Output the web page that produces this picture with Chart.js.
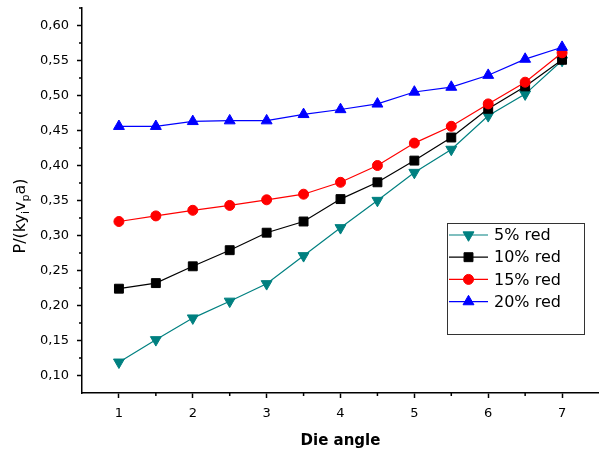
<!DOCTYPE html>
<html>
<head>
<meta charset="utf-8">
<script src="https://cdn.jsdelivr.net/npm/chart.js@4.4.0/dist/chart.umd.min.js"></script>
<style>
  body { margin: 0; background: #fff; }
  #wrap { width: 599px; height: 454px; }
</style>
</head>
<body>
<div id="wrap"><canvas id="dieChart" width="599" height="454"></canvas></div>
<script>
// die angle values on the x axis
const angles = [1, 1.5, 2, 2.5, 3, 3.5, 4, 4.5, 5, 5.5, 6, 6.5, 7];

// P/(ky_i v_p a) for each reduction
const red5 = [0.119, 0.151, 0.182, 0.206, 0.231, 0.271, 0.311, 0.350, 0.390, 0.423, 0.471, 0.502, 0.550];
const red10 = [0.224, 0.232, 0.256, 0.279, 0.304, 0.320, 0.352, 0.376, 0.407, 0.440, 0.481, 0.513, 0.551];
const red15 = [0.320, 0.328, 0.336, 0.343, 0.351, 0.359, 0.376, 0.400, 0.432, 0.456, 0.488, 0.519, 0.561];
const red20 = [0.456, 0.456, 0.463, 0.464, 0.464, 0.473, 0.480, 0.488, 0.505, 0.512, 0.529, 0.552, 0.569];

const seriesLabels = ['5% red', '10% red', '15% red', '20% red'];

const xTicks = [1, 2, 3, 4, 5, 6, 7];
const yTicks = [0.10, 0.15, 0.20, 0.25, 0.30, 0.35, 0.40, 0.45, 0.50, 0.55, 0.60];

const FONT = 'DejaVu Sans';

function toPoints(vals) {
    return angles.map((a, i) => ({ x: a, y: vals[i] }));
}

function makeSet(label, vals, color, style, rotation, radius, order) {
    return {
        label: label,
        data: toPoints(vals),
        borderColor: color,
        backgroundColor: color,
        borderWidth: 1.2,
        pointStyle: style,
        rotation: rotation,
        pointRadius: radius,
        pointBorderWidth: 1,
        pointBorderColor: color,
        pointBackgroundColor: color,
        tension: 0,
        order: order
    };
}

// minor ticks, axis titles with subscripts and the framed legend
const decorPlugin = {
    id: 'decor',
    afterDraw(chart) {
        const ctx = chart.ctx;
        const xs = chart.scales.x;
        const ys = chart.scales.y;
        const area = chart.chartArea;
        ctx.save();
        ctx.strokeStyle = '#000';
        ctx.lineWidth = 1.5;
        ctx.beginPath();
        for (let v = 1.5; v < 7; v += 1) {
            const px = xs.getPixelForValue(v);
            ctx.moveTo(px, area.bottom);
            ctx.lineTo(px, area.bottom + 3);
        }
        for (let v = 0.125; v < 0.63; v += 0.05) {
            const py = ys.getPixelForValue(v);
            ctx.moveTo(area.left, py);
            ctx.lineTo(area.left - 3, py);
        }
        ctx.stroke();

        // y title: P/(ky_i v_p a)
        const parts = [
            ['P/(ky', false], ['i', true], ['v', false], ['p', true], ['a)', false]
        ];
        const big = '16px "' + FONT + '"';
        const small = '11px "' + FONT + '"';
        let total = 0;
        parts.forEach(p => {
            ctx.font = p[1] ? small : big;
            total += ctx.measureText(p[0]).width;
        });
        ctx.translate(19, 216);
        ctx.rotate(-Math.PI / 2);
        ctx.fillStyle = '#000';
        ctx.textBaseline = 'alphabetic';
        ctx.textAlign = 'left';
        let cx = -total / 2;
        parts.forEach(p => {
            ctx.font = p[1] ? small : big;
            ctx.fillText(p[0], cx, p[1] ? 10 : 6);
            cx += ctx.measureText(p[0]).width;
        });
        ctx.restore();

        // legend box
        ctx.save();
        ctx.strokeStyle = '#333';
        ctx.lineWidth = 1;
        ctx.strokeRect(447.5, 223.5, 137, 111);
        ctx.font = '16px "' + FONT + '"';
        ctx.textBaseline = 'middle';
        ctx.textAlign = 'left';
        chart.data.datasets.forEach((ds, i) => {
            const y = 235 + i * 22.2;
            ctx.strokeStyle = ds.borderColor;
            ctx.lineWidth = 1.2;
            ctx.beginPath();
            ctx.moveTo(449, y);
            ctx.lineTo(488, y);
            ctx.stroke();
            ctx.fillStyle = ds.backgroundColor;
            ctx.strokeStyle = ds.borderColor;
            ctx.lineWidth = 1;
            Chart.helpers.drawPoint(ctx, {
                pointStyle: ds.pointStyle,
                rotation: ds.rotation,
                radius: ds.pointRadius,
                borderWidth: 1
            }, 468.5, y);
            ctx.fillStyle = '#000';
            ctx.fillText(ds.label, 494, y + 1);
        });
        ctx.restore();
    }
};

const ctxDie = document.getElementById('dieChart').getContext('2d');

const dieChart = new Chart(ctxDie, {
    type: 'line',
    data: {
        datasets: [
            makeSet(seriesLabels[0], red5, '#008080', 'triangle', 180, 6.3, 3),
            makeSet(seriesLabels[1], red10, '#000000', 'rect', 0, 6.3, 2),
            makeSet(seriesLabels[2], red15, '#ff0000', 'circle', 0, 5, 1),
            makeSet(seriesLabels[3], red20, '#0000ff', 'triangle', 0, 6.3, 0)
        ]
    },
    options: {
        responsive: false,
        animation: false,
        events: [],
        layout: {
            autoPadding: false,
            padding: { top: 8, right: 0, left: 0, bottom: 0 }
        },
        plugins: {
            legend: { display: false },
            tooltip: { enabled: false }
        },
        scales: {
            x: {
                type: 'linear',
                min: 0.5,
                max: 7.5,
                afterBuildTicks: (scale) => {
                    scale.ticks = xTicks.map(v => ({ value: v }));
                },
                afterFit: (scale) => {
                    scale.height = 61;
                    scale.paddingLeft = 0;
                    scale.paddingRight = 0;
                },
                border: { color: '#000', width: 1.5 },
                grid: {
                    drawOnChartArea: false,
                    drawTicks: true,
                    tickLength: 5,
                    tickWidth: 1.5,
                    tickColor: '#000'
                },
                ticks: {
                    color: '#000',
                    font: { family: FONT, size: 13 },
                    padding: 8,
                    maxRotation: 0,
                    callback: (v) => String(v)
                },
                title: {
                    display: true,
                    text: 'Die angle',
                    color: '#000',
                    font: { family: FONT, size: 15, weight: 'bold' },
                    padding: { top: 0, bottom: 4 }
                }
            },
            y: {
                type: 'linear',
                min: 0.075,
                max: 0.625,
                afterBuildTicks: (scale) => {
                    scale.ticks = yTicks.map(v => ({ value: v }));
                },
                afterFit: (scale) => {
                    scale.width = 82;
                    scale.paddingTop = 0;
                    scale.paddingBottom = 0;
                },
                border: { color: '#000', width: 1.5 },
                grid: {
                    drawOnChartArea: false,
                    drawTicks: true,
                    tickLength: 5,
                    tickWidth: 1.5,
                    tickColor: '#000'
                },
                ticks: {
                    color: '#000',
                    font: { family: FONT, size: 13 },
                    padding: 8,
                    callback: (v) => v.toFixed(2).replace('.', ',')
                }
            }
        }
    },
    plugins: [decorPlugin]
});
</script>
</body>
</html>
